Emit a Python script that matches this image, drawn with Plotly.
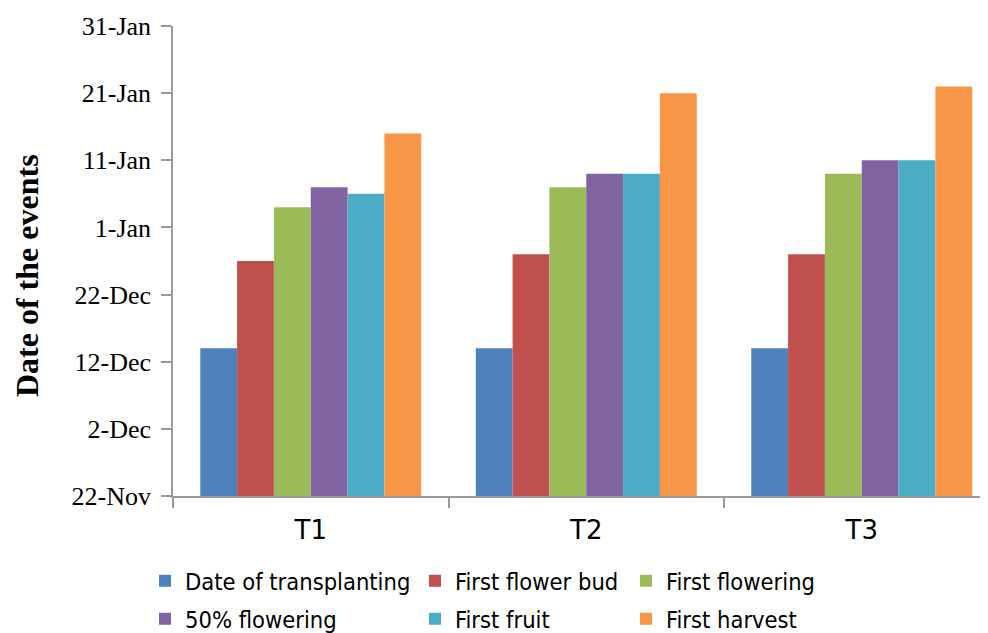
import pandas as pd
import plotly.graph_objects as go

categories = ["T1", "T2", "T3"]
series_names = ["Date of transplanting", "First flower bud", "First flowering",
                "50% flowering", "First fruit", "First harvest"]
date_of_transplanting = ["2012-12-14", "2012-12-14", "2012-12-14"]
first_flower_bud = ["2012-12-27", "2012-12-28", "2012-12-28"]
first_flowering = ["2013-01-04", "2013-01-07", "2013-01-09"]
fifty_pct_flowering = ["2013-01-07", "2013-01-09", "2013-01-11"]
first_fruit = ["2013-01-06", "2013-01-09", "2013-01-11"]
first_harvest = ["2013-01-15", "2013-01-21", "2013-01-22"]
colors = ["#4F81BD", "#C0504D", "#9BBB59", "#8064A2", "#4BACC6", "#F79646"]

axis_start = "2012-11-22"
tick_dates = ["2012-11-22", "2012-12-02", "2012-12-12", "2012-12-22",
              "2013-01-01", "2013-01-11", "2013-01-21", "2013-01-31"]
tick_labels = ["22-Nov", "2-Dec", "12-Dec", "22-Dec", "1-Jan", "11-Jan", "21-Jan", "31-Jan"]

base = pd.Timestamp(axis_start)


def days(values):
    return [int((pd.Timestamp(v) - base).days) for v in values]


all_series = [date_of_transplanting, first_flower_bud, first_flowering,
              fifty_pct_flowering, first_fruit, first_harvest]

fig = go.Figure()
legend_ids = ["legend", "legend2", "legend3", "legend4", "legend5", "legend6"]
for i, (name, vals) in enumerate(zip(series_names, all_series)):
    fig.add_trace(go.Bar(
        x=categories, y=days(vals), name=name,
        marker=dict(color=colors[i], line=dict(width=0)),
        customdata=vals, hovertemplate="%{x}: %{customdata}<extra>" + name + "</extra>",
        legend=legend_ids[i],
    ))

# page offset (body margin) compensation
off = 8
W, H = 988, 633
plot_l, plot_t, plot_h = 173 - off, 26 - off, 470
plot_w = W - plot_l
cat_w = 275.5
x_end = -0.5 + plot_w / cat_w

col_x = [145 - off, 415 - off, 626 - off]
row_y = [581 - off, 619 - off]
legend_font = dict(family="Liberation Sans Narrow, DejaVu Sans Condensed, Arial Narrow, sans-serif",
                   size=23.5, color="#000000")
layout_legends = {}
for i, lid in enumerate(legend_ids):
    r, c = divmod(i, 3)
    layout_legends[lid] = dict(
        x=(col_x[c] - plot_l) / plot_w, y=(plot_t + plot_h - row_y[r]) / plot_h,
        xanchor="left", yanchor="middle",
        font=legend_font, bgcolor="rgba(0,0,0,0)", borderwidth=0,
    )

axis_color = "#999999"
fig.update_layout(
    width=W, height=H,
    margin=dict(l=plot_l, r=0, t=plot_t, b=H - plot_t - plot_h, autoexpand=False),
    plot_bgcolor="white", paper_bgcolor="white",
    barmode="group", bargap=0.198, bargroupgap=0,
    showlegend=True,
    xaxis=dict(
        type="category", range=[-0.5, x_end],
        showline=True, linecolor=axis_color, linewidth=1.5,
        ticks="outside", tickson="boundaries", ticklen=10, tickcolor=axis_color, tickwidth=1.5,
        tickfont=dict(family="DejaVu Sans, sans-serif", size=26, color="#000000"),
        ticklabelstandoff=10,
        showgrid=False, zeroline=False,
    ),
    yaxis=dict(
        range=[0, 70], tickmode="array",
        tickvals=days(tick_dates), ticktext=tick_labels,
        showline=True, linecolor=axis_color, linewidth=1.5,
        ticks="outside", ticklen=10, tickcolor=axis_color, tickwidth=1.5,
        tickfont=dict(family="Liberation Serif, serif", size=26, color="#000000"),
        ticklabelstandoff=5,
        showgrid=False, zeroline=False,
    ),
    annotations=[dict(
        text="<b>Date of the events</b>", textangle=-90,
        xref="paper", yref="paper", x=(27 - off - plot_l) / plot_w, xanchor="center",
        y=(plot_t + plot_h - (276 - off)) / plot_h, yanchor="middle", showarrow=False,
        font=dict(family="Liberation Serif, serif", size=32, color="#000000"),
    )],
    **layout_legends,
)

fig.write_html("out.html")
